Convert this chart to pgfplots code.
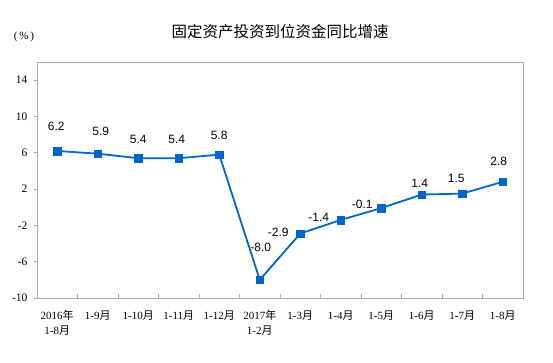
\documentclass[border=0pt]{standalone}
\usepackage{fontspec}
\setmainfont{Liberation Sans}
\newfontfamily\serif{Liberation Serif}
\newfontfamily\cjk{Noto Sans CJK SC}
\usepackage{pgfplots}
\pgfplotsset{compat=1.18}
\usepackage{pgfplotstable}
\definecolor{lineblue}{RGB}{0,102,204}
\definecolor{axisgray}{RGB}{170,170,170}
\newcommand\yue{{\cjk 月}}
\newcommand\nian{{\cjk 年}}
\pgfplotstableread{
x y dx dy lab
0 6.2 -1 25 6.2
1 5.9 3 22 5.9
2 5.4 0 19 5.4
3 5.4 -2 19 5.4
4 5.8 0 19 5.8
5 -8.0 1 32 -8.0
6 -2.9 -22 1 -2.9
7 -1.4 -22 3 -1.4
8 -0.1 -19 4 -0.1
9 1.4 -2 11 1.4
10 1.5 -6 15 1.5
11 2.8 -4 20 2.8
}\datatable
\begin{document}
\begin{tikzpicture}
\useasboundingbox (-37pt,-64pt) rectangle (516pt,298pt);
\begin{axis}[at={(0,0)}, anchor=south west, scale only axis,
  width=486pt, height=236pt,
  xmin=-0.5, xmax=11.5, ymin=-10, ymax=16,
  axis line style={draw=axisgray, line width=0.8pt},
  tick align=inside,
  xtick pos=bottom, ytick pos=left,
  xtick={0,...,11},
  xticklabels={{2016\nian\\1-8\yue},{1-9\yue},{1-10\yue},{1-11\yue},{1-12\yue},{2017\nian\\1-2\yue},{1-3\yue},{1-4\yue},{1-5\yue},{1-6\yue},{1-7\yue},{1-8\yue}},
  minor xtick={0.5,1.5,...,10.5},
  major x tick style={draw=none},
  minor x tick style={draw=axisgray, line width=0.8pt},
  minor tick length=4pt,
  ytick={-10,-6,-2,2,6,10,14},
  yticklabels={-10,-6,-2,2,6,10,14},
  ytick style={draw=axisgray, line width=0.8pt, xshift=-3pt},
  major tick length=3pt,
  xticklabel style={font=\serif\fontsize{11}{15}\selectfont, align=center, yshift=-9pt},
  yticklabel style={font=\serif\fontsize{11.5}{13}\selectfont, xshift=-6pt},
  clip=false,
]
\addplot[lineblue, line width=1.8pt, mark=square*, mark size=3.8pt,
  mark options={solid, line width=0.4pt, fill=lineblue},
  nodes near coords, point meta=explicit symbolic,
  visualization depends on={\thisrow{dx} \as \dx},
  visualization depends on={\thisrow{dy} \as \dy},
  nodes near coords style={anchor=center, xshift=\dx pt, yshift=\dy pt, text=black, font=\fontsize{12}{14}\selectfont}]
  table[x=x, y=y, meta=lab]{\datatable};
\end{axis}
\node[font=\cjk\fontsize{15.5}{18}\selectfont] at (243pt,266pt) {固定资产投资到位资金同比增速};
\node[font=\serif\fontsize{11}{13}\selectfont] at (-13pt,261pt) {(\,\%\,)};
\end{tikzpicture}
\end{document}
